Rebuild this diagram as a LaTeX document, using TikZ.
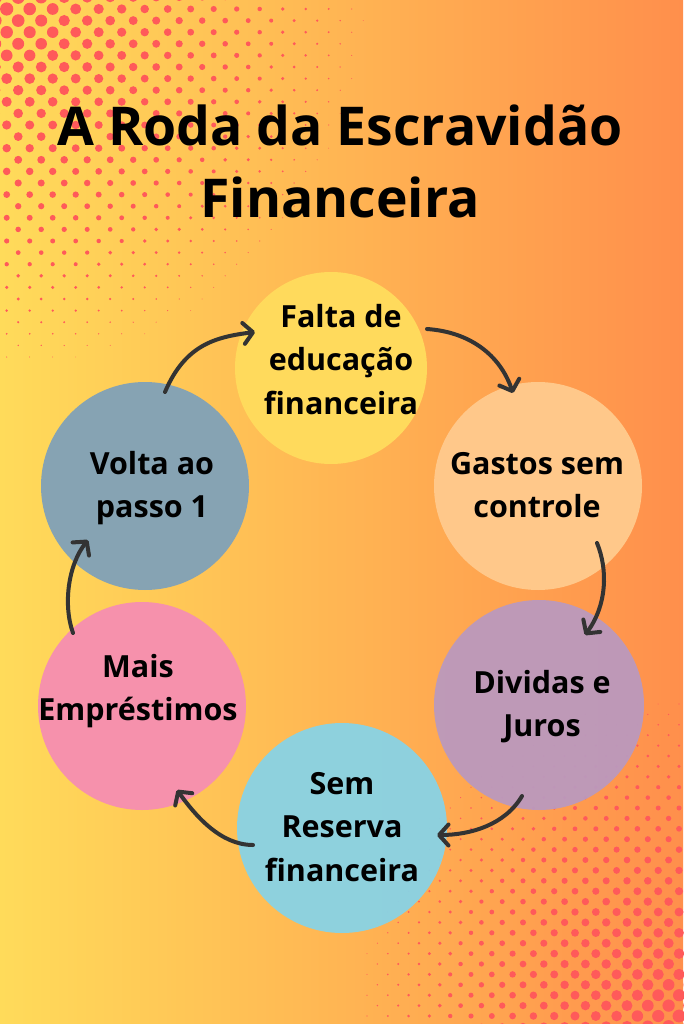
\documentclass[tikz,border=0pt]{standalone}
\usepackage{fontspec}
\setmainfont{Open Sans}
\usetikzlibrary{arrows.meta,calc}
\definecolor{bgL}{HTML}{FFDB5A}
\definecolor{bgR}{HTML}{FF8F4C}
\definecolor{dotc}{HTML}{FF5A5A}
\definecolor{cYel}{HTML}{FFDA5C}
\definecolor{cPea}{HTML}{FFC88A}
\definecolor{cPur}{HTML}{BA99BE}
\definecolor{cBlu}{HTML}{87D3E6}
\definecolor{cPin}{HTML}{F691AC}
\definecolor{cSla}{HTML}{86A3B3}
\definecolor{arrc}{HTML}{333333}
\tikzset{
 bubble/.style={circle, inner sep=0pt, draw=none},
 seethru/.style={fill opacity=0.94},
 lbl/.style={align=center, inner sep=0pt, anchor=north, font=\bfseries\fontsize{30.5}{43.5}\selectfont, text=black},
 ttl/.style={align=center, inner sep=0pt, anchor=north, font=\bfseries\fontsize{53.5}{72}\selectfont, text=black},
 flow/.style={draw=arrc, line width=4pt, line cap=round, -{Straight Barb[length=9.5pt,width=21pt,line cap=round,line join=round]}},
}
\begin{document}
\begin{tikzpicture}[x=1pt,y=-1pt]
\useasboundingbox (0,0) rectangle (683,1024);
\shade[left color=bgL, right color=bgR] (0,0) rectangle (683,1024);
% halftone top-left
\foreach \j in {0,...,33}{
  \foreach \i in {-1,...,16}{
    \pgfmathsetmacro\xx{6.7+23*\i+11.5*(1-mod(\j,2))}
    \pgfmathsetmacro\yy{-2.6+11.6*\j}
    \pgfmathsetmacro\rr{6.8-0.0175*veclen(\xx,\yy)}
    \ifdim\rr pt>0.4pt \fill[dotc] (\xx,\yy) circle[radius=\rr pt];\fi
  }
}
% halftone bottom-right
\foreach \k in {0,...,34}{
  \foreach \i in {-1,...,17}{
    \pgfmathsetmacro\xx{679-20.8*\i-10.4*(1-mod(\k,2))}
    \pgfmathsetmacro\yy{1026.4-10.4*\k}
    \pgfmathsetmacro\rr{6.6-0.019*veclen(683-\xx,1024-\yy)}
    \ifdim\rr pt>0.4pt \fill[dotc] (\xx,\yy) circle[radius=\rr pt];\fi
  }
}
% title
\node[ttl] (title) at (340,85) {\rule{0pt}{60pt}A Roda da Escravidão\\Financeira};
% circles
\node[bubble, fill=cYel, minimum size=192pt] (c1) at (331,368) {};
\node[bubble, fill=cPea, minimum size=208pt] (c2) at (538,486) {};
\node[bubble, seethru, fill=cPur, minimum size=210pt] (c3) at (539,705) {};
\node[bubble, seethru, fill=cBlu, minimum size=210pt] (c4) at (342,828) {};
\node[bubble, fill=cPin, minimum size=208pt] (c5) at (142,706) {};
\node[bubble, fill=cSla, minimum size=208pt] (c6) at (145,486) {};
% labels
\node[lbl] (t1) at (341,297) {\rule{0pt}{30pt}Falta de\\educação\\financeira};
\node[lbl] (t2) at (537,444) {\rule{0pt}{30pt}Gastos sem\\controle};
\node[lbl] (t3) at (542,663) {\rule{0pt}{30pt}Dividas e\\Juros};
\node[lbl] (t4) at (342,764) {\rule{0pt}{30pt}Sem\\Reserva\\financeira};
\node[lbl] (t5) at (138,647) {\rule{0pt}{30pt}Mais\\Empréstimos};
\node[lbl] (t6) at (152,444) {\rule{0pt}{30pt}Volta ao\\passo 1};
% arrow end points, relative to the circles
\coordinate (s1) at ($(c6.center)+(20,-94)$);
\coordinate (e1) at ($(c1.center)+(-76,-36)$);
\coordinate (s2) at ($(c1.center)+(96,-39)$);
\coordinate (e2) at ($(c2.center)+(-25,-93)$);
\coordinate (s3) at ($(c2.center)+(59,57)$);
\coordinate (e3) at ($(c3.center)+(46,-70)$);
\coordinate (s4) at ($(c3.center)+(-17,91)$);
\coordinate (e4) at ($(c4.center)+(95,7)$);
\coordinate (s5) at ($(c4.center)+(-89,17)$);
\coordinate (e5) at ($(c5.center)+(35,84)$);
\coordinate (s6) at ($(c5.center)+(-69,-73)$);
\coordinate (e6) at ($(c6.center)+(-57,54)$);
\draw[flow] (s1) .. controls ($(s1)+(20,-47)$) and ($(e1)+(-40,5)$) .. (e1);
\draw[flow] (s2) .. controls ($(s2)+(43,3)$) and ($(e2)+(-13,-38)$) .. (e2);
\draw[flow] (s3) .. controls ($(s3)+(11,27)$) and ($(e3)+(22,-30)$) .. (e3);
\draw[flow] (s4) .. controls ($(s4)+(-17,29)$) and ($(e4)+(33,0)$) .. (e4);
\draw[flow] (s5) .. controls ($(s5)+(-33,0)$) and ($(e5)+(18,25)$) .. (e5);
\draw[flow] (s6) .. controls ($(s6)+(-10,-28)$) and ($(e6)+(-20,25)$) .. (e6);
\end{tikzpicture}
\end{document}
